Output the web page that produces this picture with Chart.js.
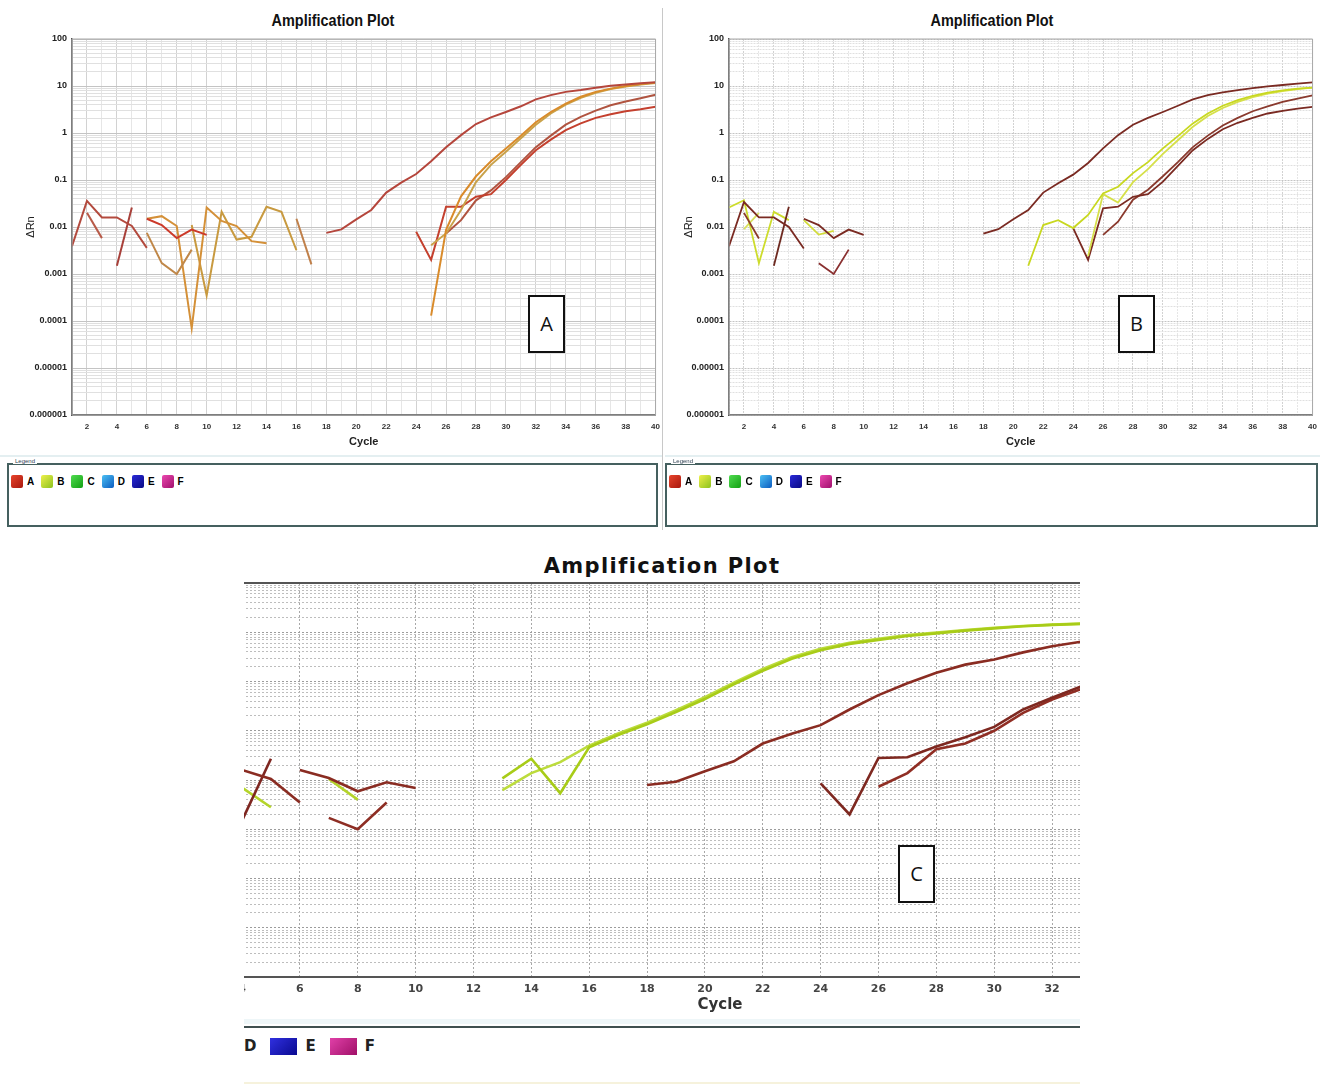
<!DOCTYPE html>
<html>
<head>
<meta charset="utf-8">
<script src="https://cdn.jsdelivr.net/npm/chart.js@4.4.1/dist/chart.umd.min.js"></script>
<style>
  body { margin: 0; background: #fff; width: 1325px; height: 1087px; position: relative; overflow: hidden; font-family: "Liberation Sans", Arial, sans-serif; }
  .abs { position: absolute; }
  .title { position: absolute; font-weight: bold; font-size: 17px; transform: translateX(-50%) scaleX(0.85); white-space: nowrap; color: #111; }
  .legend { position: absolute; border: 2px solid #45605f; height: 60px; }
  .legend .cap { position: absolute; left: 4px; top: -7px; font-size: 6px; background: #fff; color: #345; padding: 0 2px; }
  .items { position: absolute; left: 2px; top: 10px; font-size: 10px; font-weight: bold; display: flex; align-items: center; }
  .sw { width: 12px; height: 13px; border-radius: 2px; margin-right: 4px; }
  .items span { margin-right: 7px; }
  .tag { position: absolute; border: 2px solid #111; width: 33px; height: 54px; font-family: "Open Sans", "Liberation Sans", sans-serif; font-size: 20px; line-height: 54px; text-align: center; color: #111; background: #fff; }
</style>
</head>
<body>
<div class="title" style="left:333px; top:11px;">Amplification Plot</div>
<div class="title" style="left:992px; top:11px;">Amplification Plot</div>
<canvas id="chartA" class="abs" style="left:0; top:0;" width="667" height="452"></canvas>
<canvas id="chartB" class="abs" style="left:665px; top:0;" width="659" height="452"></canvas>
<div class="abs" style="left:662px; top:8px; width:1px; height:522px; background:#c8c8c8;"></div>
<div class="abs" style="left:0; top:455px; width:662px; height:2px; background:#e4eff1;"></div>
<div class="abs" style="left:665px; top:455px; width:655px; height:2px; background:#e4eff1;"></div>

<div class="legend" style="left:7px; top:463px; width:647px;">
  <div class="cap">Legend</div>
  <div class="items">
    <div class="sw" style="background:linear-gradient(135deg,#e8442c,#a8180e);"></div><span>A</span>
    <div class="sw" style="background:linear-gradient(135deg,#eef04a,#8cc21e);"></div><span>B</span>
    <div class="sw" style="background:linear-gradient(135deg,#50dc50,#14a014);"></div><span>C</span>
    <div class="sw" style="background:linear-gradient(135deg,#4cc0f4,#0c5cc0);"></div><span>D</span>
    <div class="sw" style="background:linear-gradient(135deg,#2a2ad8,#0a0a84);"></div><span>E</span>
    <div class="sw" style="background:linear-gradient(135deg,#ec48b0,#a0106c);"></div><span>F</span>
  </div>
</div>
<div class="legend" style="left:665px; top:463px; width:649px;">
  <div class="cap">Legend</div>
  <div class="items">
    <div class="sw" style="background:linear-gradient(135deg,#e8442c,#a8180e);"></div><span>A</span>
    <div class="sw" style="background:linear-gradient(135deg,#eef04a,#8cc21e);"></div><span>B</span>
    <div class="sw" style="background:linear-gradient(135deg,#50dc50,#14a014);"></div><span>C</span>
    <div class="sw" style="background:linear-gradient(135deg,#4cc0f4,#0c5cc0);"></div><span>D</span>
    <div class="sw" style="background:linear-gradient(135deg,#2a2ad8,#0a0a84);"></div><span>E</span>
    <div class="sw" style="background:linear-gradient(135deg,#ec48b0,#a0106c);"></div><span>F</span>
  </div>
</div>

<div class="abs" style="left:662px; top:554px; transform:translateX(-50%); font-family:'DejaVu Sans',sans-serif; font-weight:bold; font-size:21px; letter-spacing:1.4px; white-space:nowrap; color:#111;">Amplification Plot</div>
<div class="abs" style="left:244px; top:575px; width:836px; height:445px; overflow:hidden;">
  <canvas id="chartC" class="abs" style="left:-44px; top:0;" width="887" height="445"></canvas>
</div>
<div class="abs" style="left:720px; top:995px; transform:translateX(-50%); font-family:'DejaVu Sans',sans-serif; font-weight:bold; font-size:15px; color:#333;">Cycle</div>
<div class="abs" style="left:244px; top:1026px; width:836px; height:2px; background:#3f4f4f;"></div>
<div class="abs" style="left:244px; top:1019px; width:836px; height:5px; background:#eef6f8;"></div>
<div class="abs" style="left:244px; top:1037px; font-family:'DejaVu Sans',sans-serif; font-weight:bold; font-size:15px; display:flex; align-items:center; color:#222;">
  <span>D</span>
  <div style="width:27px; height:17px; margin:0 8px 0 14px; background:linear-gradient(135deg,#3030e0,#0a0a90);"></div><span>E</span>
  <div style="width:27px; height:17px; margin:0 8px 0 14px; background:linear-gradient(135deg,#e040a8,#a01068);"></div><span>F</span>
</div>
<div class="abs" style="left:244px; top:1082px; width:836px; height:2px; background:#f6f2dc;"></div>

<div class="tag" style="left:528px; top:295px;">A</div>
<div class="tag" style="left:1118px; top:295px;">B</div>
<div class="tag" style="left:898px; top:845px;">C</div>

<script>
// ΔRn readings per cycle. Each trace starts at the cycle listed in its start array.

// Panel A
const startA = [1, 2, 4, 6, 6, 6, 9, 16, 18, 25, 25, 24, 26];
const colorsA = ['#b34a3e', '#b85a48', '#a8403a', '#cc3a2a', '#c0884a', '#d49038', '#c89a40', '#c0804a',
                 '#b5463c', '#d98b2b', '#c9a24a', '#c4402e', '#b05440'];
const a1 = [0.0039, 0.036, 0.016, 0.016, 0.0105, 0.0036];
const a2 = [0.02, 0.0058];
const a3 = [0.0015, 0.026];
const a4 = [0.015, 0.011, 0.0058, 0.0088, 0.0068];
const a5 = [0.0075, 0.0017, 0.001, 0.0033];
const a6 = [0.015, 0.017, 0.0105, 0.00007, 0.026, 0.0135, 0.0105, 0.005, 0.0045];
const a7 = [0.011, 0.00035, 0.021, 0.0054, 0.0062, 0.027, 0.021, 0.0032];
const a8 = [0.015, 0.0016];
const a9 = [0.0075, 0.0089, 0.0145, 0.023, 0.054, 0.088, 0.134, 0.25, 0.5, 0.9, 1.55, 2.15, 2.8, 3.7, 5.2, 6.4, 7.5, 8.2, 9.2, 10.1, 10.7, 11.4, 12];
const a10 = [0.00013, 0.0087, 0.045, 0.12, 0.25, 0.47, 0.87, 1.7, 2.8, 4.2, 5.9, 7.5, 8.8, 10, 11, 11.8];
const a11 = [0.0041, 0.0073, 0.023, 0.09, 0.21, 0.4, 0.77, 1.5, 2.6, 4.0, 5.6, 7.2, 8.6, 9.8, 10.8, 11.6];
const a12 = [0.0079, 0.002, 0.027, 0.027, 0.044, 0.05, 0.1, 0.21, 0.43, 0.72, 1.15, 1.6, 2.1, 2.5, 2.9, 3.2, 3.6];
const a13 = [0.0073, 0.014, 0.037, 0.06, 0.115, 0.24, 0.5, 0.88, 1.5, 2.2, 3.0, 3.9, 4.7, 5.5, 6.5];

// Panel B
const startB = [1, 2, 4, 1, 2, 6, 6, 7, 18, 21, 25, 24, 26];
const colorsB = ['#7a2a22', '#8a3a2a', '#6e2a20', '#cddc2c', '#d8e060', '#7a2a22', '#d2dc3a', '#8a3030',
                 '#7a2a22', '#c8d820', '#d6e04a', '#7a2a22', '#8a3a2e'];
const b1 = [0.0039, 0.034, 0.016, 0.016, 0.01, 0.0035];
const b2 = [0.02, 0.0057];
const b3 = [0.0015, 0.027];
const b4 = [0.026, 0.037, 0.0017, 0.021, 0.014];
const b5 = [0.009, 0.02];
const b6 = [0.015, 0.011, 0.0058, 0.0088, 0.0068];
const b7 = [0.014, 0.0069, 0.0083];
const b8 = [0.0017, 0.001, 0.0033];
const b9 = [0.0072, 0.009, 0.0147, 0.023, 0.054, 0.085, 0.13, 0.23, 0.47, 0.9, 1.5, 2.1, 2.8, 3.8, 5.2, 6.4, 7.3, 8.2, 9.0, 9.8, 10.5, 11.2, 12];
const b10 = [0.0015, 0.011, 0.014, 0.0095, 0.018, 0.052, 0.072, 0.14, 0.24, 0.47, 0.86, 1.6, 2.6, 3.8, 5.0, 6.2, 7.2, 8.1, 8.8, 9.2];
const b11 = [0.0024, 0.05, 0.033, 0.09, 0.17, 0.36, 0.7, 1.36, 2.3, 3.4, 4.6, 5.8, 6.9, 7.8, 8.6, 9.2];
const b12 = [0.0095, 0.002, 0.025, 0.027, 0.044, 0.05, 0.092, 0.2, 0.43, 0.75, 1.2, 1.65, 2.1, 2.6, 2.95, 3.3, 3.6];
const b13 = [0.0068, 0.013, 0.038, 0.062, 0.12, 0.24, 0.5, 0.88, 1.45, 2.1, 2.9, 3.7, 4.6, 5.4, 6.3];

// Panel C (zoomed, cycles 4-33)
const startC = [4, 4, 4, 6, 7, 7, 13, 13, 18, 24, 26];
const colorsC = ['#8a2c22', '#7e2620', '#b4d42a', '#8a2c22', '#b4d42a', '#8e2e24',
                 '#a8cc18', '#bcdc3c', '#8a2c22', '#7e2820', '#902e24'];
const c1 = [0.016, 0.0105, 0.0035];
const c2 = [0.0015, 0.027];
const c3 = [0.007, 0.0028];
const c4 = [0.016, 0.011, 0.0059, 0.009, 0.0069];
const c5 = [0.0105, 0.004];
const c6 = [0.0017, 0.001, 0.0035];
const c7 = [0.0108, 0.027, 0.0054, 0.046, 0.082, 0.135, 0.24, 0.44, 0.88, 1.65, 2.9, 4.3, 5.8, 7.0, 8.4, 9.5, 10.8, 12.0, 13.2, 14.1, 14.8];
const c8 = [0.0062, 0.0138, 0.023, 0.05, 0.088, 0.145, 0.26, 0.48, 0.95, 1.8, 3.1, 4.6, 6.1, 7.4, 8.8, 9.9, 11.1, 12.3, 13.4, 14.3, 15];
const c9 = [0.0079, 0.0092, 0.015, 0.024, 0.055, 0.087, 0.13, 0.27, 0.53, 0.92, 1.5, 2.2, 2.8, 3.9, 5.2, 6.4];
const c10 = [0.0085, 0.002, 0.028, 0.029, 0.048, 0.074, 0.12, 0.27, 0.47, 0.79];
const c11 = [0.0073, 0.0138, 0.042, 0.055, 0.1, 0.23, 0.43, 0.7];

// y axis: 1e-6 .. 100, with minor lines 2..9 in each decade
const decades = [-6, -5, -4, -3, -2, -1, 0, 1];

function buildLogTicks(scale) {
  const ticks = [];
  decades.forEach(e => {
    for (let m = 1; m <= 9; m++) ticks.push({ value: m * Math.pow(10, e) });
  });
  ticks.push({ value: 100 });
  scale.ticks = ticks;
}

function isDecade(v) {
  const l = Math.log10(v);
  return Math.abs(l - Math.round(l)) < 1e-6;
}

function decadeLabel(v) {
  if (!isDecade(v)) return '';
  const l = Math.round(Math.log10(v));
  return l >= 0 ? String(Math.round(v)) : v.toFixed(-l);
}

function toDatasets(starts, traces, colors, width) {
  return traces.map((vals, k) => ({
    data: vals.map((v, i) => ({ x: starts[k] + i, y: v })),
    borderColor: colors[k],
    borderWidth: width,
    pointRadius: 0,
    tension: 0,
    fill: false
  }));
}

// plot frame around chart area
const framePlugin = {
  id: 'frame',
  afterDatasetsDraw(chart, args, opts) {
    const { ctx, chartArea: a } = chart;
    ctx.save();
    ctx.strokeStyle = opts.color;
    ctx.lineWidth = opts.width;
    ctx.beginPath();
    if (opts.full) {
      ctx.rect(a.left, a.top, a.width, a.height);
    } else {
      ctx.moveTo(a.left, a.top);
      ctx.lineTo(a.right, a.top);
    }
    ctx.stroke();
    ctx.restore();
  }
};

function topChart(id, datasets, yWidth, padRight, gridDash, titlePad) {
  return new Chart(document.getElementById(id), {
    type: 'line',
    data: { datasets: datasets },
    plugins: [framePlugin],
    options: {
      responsive: false,
      animation: false,
      layout: { padding: { left: 0, top: 39, right: padRight, bottom: 0 } },
      plugins: {
        legend: { display: false },
        tooltip: { enabled: false },
        frame: { color: '#a8a8a8', width: 1, full: true }
      },
      scales: {
        x: {
          type: 'linear', min: 1, max: 40,
          afterFit: s => { s.height = 37; },
          ticks: {
            stepSize: 1, autoSkip: false, maxRotation: 0, padding: 7,
            color: '#333', font: { family: 'Liberation Sans', size: 8, weight: 'bold' },
            callback: v => (v % 2 === 0 ? String(v) : '')
          },
          grid: {
            drawTicks: false,
            color: c => (c.tick.value % 2 === 0 ? '#d2d2d2' : '#e6e6e6'),
            lineWidth: 1
          },
          border: { color: '#555', width: 1.5, dash: gridDash },
          title: {
            display: true, text: 'Cycle', color: '#222',
            font: { family: 'Liberation Sans', size: 11, weight: 'bold' },
            padding: { top: 0, bottom: 3 }
          }
        },
        y: {
          type: 'logarithmic', min: 0.000001, max: 100,
          afterBuildTicks: buildLogTicks,
          afterFit: s => { s.width = yWidth; },
          ticks: {
            autoSkip: false, padding: 5, color: '#222',
            font: { family: 'Liberation Sans', size: 9, weight: 'bold' },
            callback: decadeLabel
          },
          grid: {
            drawTicks: false,
            color: c => (isDecade(c.tick.value) ? '#c4c4c4' : '#e0e0e0'),
            lineWidth: 1
          },
          border: { color: '#555', width: 1.5, dash: gridDash },
          title: {
            display: true, text: 'ΔRn', color: '#222',
            font: { family: 'Liberation Sans', size: 11 },
            padding: { top: titlePad, bottom: 0 }
          }
        }
      }
    }
  });
}

topChart('chartA',
  toDatasets(startA, [a1, a2, a3, a4, a5, a6, a7, a8, a9, a10, a11, a12, a13], colorsA, 2),
  72, 7, [], 24);

topChart('chartB',
  toDatasets(startB, [b1, b2, b3, b4, b5, b6, b7, b8, b9, b10, b11, b12, b13], colorsB, 1.8),
  64, 8, [2, 1], 17);

new Chart(document.getElementById('chartC'), {
  type: 'line',
  data: { datasets: toDatasets(startC, [c1, c2, c3, c4, c5, c6, c7, c8, c9, c10, c11], colorsC, 2.6) },
  plugins: [framePlugin],
  options: {
    responsive: false,
    animation: false,
    layout: { padding: { left: 0, top: 8, right: 0, bottom: 0 } },
    plugins: {
      legend: { display: false },
      tooltip: { enabled: false },
      frame: { color: '#555', width: 2, full: false }
    },
    scales: {
      x: {
        type: 'linear', min: 4, max: 33,
        afterFit: s => { s.height = 43; },
        ticks: {
          stepSize: 1, autoSkip: false, maxRotation: 0, padding: 6,
          color: '#444', font: { family: 'DejaVu Sans', size: 11, weight: 'bold' },
          callback: v => (v % 2 === 0 ? String(v) : '')
        },
        grid: {
          drawTicks: false,
          color: c => (c.tick.value % 2 === 0 ? '#a8a8a8' : 'rgba(0,0,0,0)'),
          lineWidth: 1
        },
        border: { color: '#555', width: 2, dash: [2, 2] }
      },
      y: {
        type: 'logarithmic', min: 0.000001, max: 100,
        afterBuildTicks: buildLogTicks,
        afterFit: s => { s.width = 42; },
        ticks: { display: false, autoSkip: false },
        grid: {
          drawTicks: false,
          color: c => (isDecade(c.tick.value) ? '#9c9c9c' : '#bdbdbd'),
          lineWidth: 1
        },
        border: { display: false, dash: [2, 2] }
      }
    }
  }
});
</script>
</body>
</html>
